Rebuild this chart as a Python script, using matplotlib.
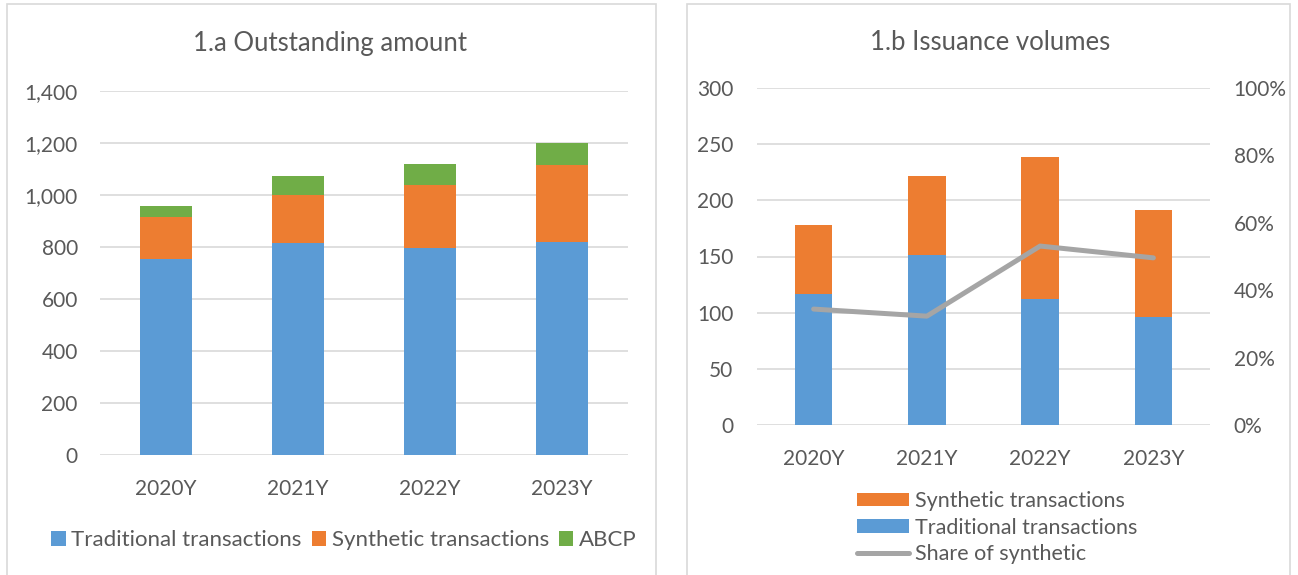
import matplotlib.pyplot as plt
import matplotlib.patches as mpatches
from matplotlib.ticker import FuncFormatter, MultipleLocator

plt.rcParams['font.family'] = ['Lato', 'DejaVu Sans']

years = ["2020Y", "2021Y", "2022Y", "2023Y"]

# 1.a outstanding amount
out_traditional = [755, 815, 797, 820]
out_synthetic = [160, 185, 242, 295]
out_abcp = [43, 73, 80, 85]

# 1.b issuance volumes
iss_traditional = [117, 151, 112, 96]
iss_synthetic = [61, 71, 127, 95]
share_synthetic = [0.344, 0.323, 0.531, 0.496]

BLUE = "#5b9bd5"
ORANGE = "#ed7d31"
GREEN = "#70ad47"
GREY_LINE = "#a5a5a5"
GRID = "#d9d9d9"
TXT = "#595959"
TICK_FS = 15
LEG_FS = 15.5

fig = plt.figure(figsize=(12.98, 5.75), dpi=100)

# panel frames
for x0, x1 in [(7, 656), (687, 1290)]:
    fig.patches.append(mpatches.Rectangle((x0 / 1298, -0.01), (x1 - x0) / 1298, 1 - 4 / 575 + 0.01,
                                          transform=fig.transFigure, fill=False,
                                          edgecolor=GRID, linewidth=1.2))


def style_axes(ax):
    for s in ax.spines.values():
        s.set_visible(False)
    ax.tick_params(length=0, colors=TXT, labelsize=TICK_FS)
    ax.grid(axis='y', color=GRID, linewidth=1.2)
    ax.set_axisbelow(True)


x = range(len(years))

# left chart
ax1 = fig.add_axes([100 / 1298, 120 / 575, 528 / 1298, 364 / 575])
style_axes(ax1)
b1 = ax1.bar(x, out_traditional, width=0.4, color=BLUE, label="Traditional transactions")
b2 = ax1.bar(x, out_synthetic, width=0.4, bottom=out_traditional, color=ORANGE,
             label="Synthetic transactions")
bottom2 = [a + b for a, b in zip(out_traditional, out_synthetic)]
b3 = ax1.bar(x, out_abcp, width=0.4, bottom=bottom2, color=GREEN, label="ABCP")
ax1.set_ylim(0, 1400)
ax1.set_xlim(-0.5, 3.5)
ax1.yaxis.set_major_locator(MultipleLocator(200))
ax1.yaxis.set_major_formatter(FuncFormatter(lambda v, p: f"{int(v):,}"))
ax1.set_xticks(list(x))
ax1.set_xticklabels(years)
ax1.tick_params(axis='y', pad=16)
ax1.tick_params(axis='x', pad=17)
fig.text(330 / 1298, 1 - 43 / 575, "1.a Outstanding amount", ha='center', va='center',
         fontsize=18.5, color=TXT)
fig.legend(handles=[b1, b2, b3], loc='center', bbox_to_anchor=(344 / 1298, 1 - 540 / 575),
           ncol=3, frameon=False, fontsize=16, labelcolor=TXT, handlelength=0.65,
           handleheight=0.65, handletextpad=0.25, columnspacing=0.45)

# right chart
ax2 = fig.add_axes([757 / 1298, 150 / 575, 453 / 1298, 337 / 575])
style_axes(ax2)
c1 = ax2.bar(x, iss_traditional, width=0.33, color=BLUE, label="Traditional transactions")
c2 = ax2.bar(x, iss_synthetic, width=0.33, bottom=iss_traditional, color=ORANGE,
             label="Synthetic transactions")
ax2.set_ylim(0, 300)
ax2.set_xlim(-0.5, 3.5)
ax2.yaxis.set_major_locator(MultipleLocator(50))
ax2.set_xticks(list(x))
ax2.set_xticklabels(years)
ax2.tick_params(axis='y', pad=17)
ax2.tick_params(axis='x', pad=17)

ax3 = ax2.twinx()
for s in ax3.spines.values():
    s.set_visible(False)
ax3.tick_params(length=0, colors=TXT, labelsize=TICK_FS, pad=17)
ln, = ax3.plot(list(x), share_synthetic, color=GREY_LINE, linewidth=3.6,
               solid_capstyle='round', label="Share of synthetic")
ax3.set_ylim(0, 1)
ax3.yaxis.set_major_locator(MultipleLocator(0.2))
ax3.yaxis.set_major_formatter(FuncFormatter(lambda v, p: f"{v * 100:.0f}%"))
fig.text(990 / 1298, 1 - 43 / 575, "1.b Issuance volumes", ha='center', va='center',
         fontsize=18.5, color=TXT)
fig.legend(handles=[c2, c1, ln], loc='upper left', bbox_to_anchor=(842 / 1298, 1 - 476 / 575),
           ncol=1, frameon=False, fontsize=LEG_FS, labelcolor=TXT, handlelength=2.4,
           handleheight=0.6, handletextpad=0.3, labelspacing=0.3, borderpad=0.2)

fig.savefig("out.png", dpi=100)
